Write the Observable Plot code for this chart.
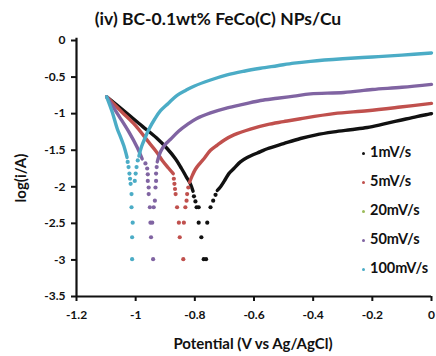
<!DOCTYPE html>
<html><head><meta charset="utf-8">
<script src="https://cdn.jsdelivr.net/npm/d3@7"></script>
<script src="https://cdn.jsdelivr.net/npm/@observablehq/plot@0.6"></script>
<style>
html,body{margin:0;padding:0;background:#fff;}
#wrap{position:relative;width:436px;height:356px;overflow:hidden;font-family:Lato,"Open Sans",sans-serif;}
#wrap svg text{font-weight:700;}
.t{position:absolute;white-space:nowrap;color:#111;font-weight:700;}
.leg{position:absolute;left:362px;font-size:14.5px;font-weight:700;color:#111;white-space:nowrap;line-height:16px;}
.leg span.d{display:inline-block;width:3px;height:3px;border-radius:50%;margin-right:5px;vertical-align:middle;}
</style></head>
<body><div id="wrap"></div>
<script>
// ---- data ----
const seriesNames = ["1mV/s","5mV/s","20mV/s","50mV/s","100mV/s"];
const seriesColors = ["#111111","#C0504D","#9BBB59","#8064A2","#4BACC6"];
const xTicks = [-1.2,-1,-0.8,-0.6,-0.4,-0.2,0];
const yTicks = [0,-0.5,-1,-1.5,-2,-2.5,-3,-3.5];

// 1mV/s (black)
const black_cath = [[-1.098,-0.77],[-1.046,-0.94],[-0.978,-1.17],[-0.930,-1.33],[-0.893,-1.48],[-0.865,-1.62],[-0.845,-1.75],[-0.828,-1.87],[-0.815,-1.96],[-0.806,-2.06]];
const black_dots = [[-0.803,-2.13],[-0.798,-2.20],[-0.794,-2.28],[-0.787,-2.28],[-0.787,-2.49],[-0.778,-2.69],[-0.770,-2.99],[-0.762,-2.99],[-0.758,-2.49],[-0.747,-2.28],[-0.738,-2.19],[-0.730,-2.11]];
const black_anod = [[-0.724,-2.05],[-0.713,-2.00],[-0.700,-1.92],[-0.685,-1.82],[-0.668,-1.75],[-0.646,-1.66],[-0.623,-1.60],[-0.578,-1.52],[-0.555,-1.48],[-0.500,-1.41],[-0.443,-1.34],[-0.390,-1.29],[-0.330,-1.25],[-0.274,-1.22],[-0.217,-1.19],[-0.160,-1.14],[-0.105,-1.09],[-0.050,-1.04],[0,-1.00]];

// 5mV/s (red)
const red_cath = [[-1.098,-0.77],[-1.046,-0.98],[-1.001,-1.16],[-0.956,-1.39],[-0.930,-1.52],[-0.910,-1.64],[-0.890,-1.74],[-0.873,-1.82]];
const red_dots = [[-0.871,-1.89],[-0.869,-1.96],[-0.867,-2.03],[-0.865,-2.10],[-0.860,-2.28],[-0.854,-2.49],[-0.851,-2.69],[-0.839,-2.99],[-0.837,-2.49],[-0.832,-2.28],[-0.828,-2.19],[-0.826,-2.10],[-0.822,-2.01]];
const red_anod = [[-0.818,-1.94],[-0.808,-1.84],[-0.798,-1.76],[-0.785,-1.69],[-0.770,-1.62],[-0.747,-1.50],[-0.724,-1.43],[-0.700,-1.36],[-0.668,-1.29],[-0.612,-1.21],[-0.555,-1.15],[-0.500,-1.11],[-0.443,-1.07],[-0.330,-1.00],[-0.217,-0.96],[-0.105,-0.91],[0,-0.86]];

// 50mV/s (purple)
const purple_cath = [[-1.098,-0.77],[-1.057,-1.03],[-1.023,-1.25],[-0.995,-1.46],[-0.978,-1.62]];
const purple_dots = [[-0.967,-1.68],[-0.961,-1.75],[-0.959,-1.83],[-0.959,-1.92],[-0.956,-2.01],[-0.956,-2.10],[-0.952,-2.28],[-0.950,-2.49],[-0.948,-2.69],[-0.941,-2.99],[-0.944,-2.49],[-0.939,-2.28],[-0.935,-2.19],[-0.933,-2.01],[-0.931,-1.92],[-0.931,-1.82],[-0.929,-1.73]];
const purple_anod = [[-0.927,-1.66],[-0.916,-1.52],[-0.900,-1.42],[-0.882,-1.35],[-0.855,-1.24],[-0.826,-1.15],[-0.795,-1.07],[-0.747,-0.99],[-0.690,-0.92],[-0.634,-0.87],[-0.578,-0.82],[-0.521,-0.79],[-0.465,-0.76],[-0.409,-0.73],[-0.296,-0.71],[-0.200,-0.67],[-0.100,-0.64],[0,-0.60]];

// 100mV/s (cyan)
const cyan_cath = [[-1.098,-0.77],[-1.079,-0.98],[-1.062,-1.21],[-1.050,-1.33],[-1.040,-1.44],[-1.029,-1.60]];
const cyan_dots = [[-1.027,-1.66],[-1.024,-1.73],[-1.021,-1.82],[-1.019,-1.89],[-1.017,-1.96],[-1.014,-2.10],[-1.014,-2.28],[-1.010,-2.49],[-1.012,-2.69],[-1.012,-2.99],[-1.003,-1.92],[-1.000,-1.82],[-0.997,-1.73],[-0.993,-1.64]];
const cyan_anod = [[-0.989,-1.58],[-0.980,-1.45],[-0.968,-1.33],[-0.956,-1.22],[-0.935,-1.07],[-0.916,-0.96],[-0.890,-0.86],[-0.860,-0.75],[-0.830,-0.68],[-0.803,-0.625],[-0.747,-0.54],[-0.691,-0.47],[-0.634,-0.42],[-0.578,-0.38],[-0.521,-0.345],[-0.465,-0.31],[-0.409,-0.285],[-0.300,-0.25],[-0.200,-0.225],[-0.100,-0.20],[0,-0.17]];

// ---- build ----
const groups = [
  {name:"1mV/s", lines:[black_cath, black_anod], dots:black_dots},
  {name:"5mV/s", lines:[red_cath, red_anod], dots:red_dots},
  {name:"50mV/s", lines:[purple_cath, purple_anod], dots:purple_dots},
  {name:"100mV/s", lines:[cyan_cath, cyan_anod], dots:cyan_dots}
];
const color = Object.fromEntries(seriesNames.map((n,i)=>[n, seriesColors[i]]));
const marks = [];
for (const g of groups) {
  for (const ln of g.lines) {
    marks.push(Plot.line(ln, {x:d=>d[0], y:d=>d[1], stroke:color[g.name], strokeWidth:3.4, curve:"catmull-rom"}));
  }
  marks.push(Plot.dot(g.dots, {x:d=>d[0], y:d=>d[1], fill:color[g.name], r:2.1}));
}

const chart = Plot.plot({
  width:436, height:356,
  marginLeft:76, marginRight:5, marginTop:40, marginBottom:60,
  style:{fontFamily:"Lato, 'Open Sans', sans-serif", fontSize:"12px", color:"#111", background:"#fff"},
  x:{domain:[-1.2,0]},
  y:{domain:[-3.5,0]},
  marks:[
    ...marks,
    Plot.axisX({ticks:xTicks, tickFormat:d=>String(d), tickSize:5, tickPadding:9, strokeWidth:2, label:null}),
    Plot.axisY({ticks:yTicks, tickFormat:d=>String(d), tickSize:5, tickPadding:6, strokeWidth:2, label:null}),
    Plot.ruleX([-1.2], {stroke:"#111", strokeWidth:2.2, y1:-3.5, y2:0.03}),
    Plot.ruleY([-3.5], {stroke:"#111", strokeWidth:2.2, x1:-1.2, x2:0})
  ]
});
const wrap = document.getElementById("wrap");
chart.style.position = "absolute"; chart.style.left = "0"; chart.style.top = "0";
wrap.appendChild(chart);

function addText(txt, css) {
  const d = document.createElement("div");
  d.className = "t"; d.textContent = txt;
  Object.assign(d.style, css);
  wrap.appendChild(d);
  return d;
}
addText("(iv) BC-0.1wt% FeCo(C) NPs/Cu", {left:"218px", top:"18px", transform:"translate(-50%,-50%)", fontSize:"17.5px"});
addText("Potential (V vs Ag/AgCl)", {left:"253px", top:"343px", transform:"translate(-50%,-50%)", fontSize:"15px"});
addText("log(i/A)", {left:"20px", top:"178px", transform:"translate(-50%,-50%) rotate(-90deg)", fontSize:"15px"});

const legendY = [152,181,210,239,268];
seriesNames.forEach((n,i)=>{
  const d = document.createElement("div");
  d.className = "leg";
  d.style.top = (legendY[i]-8) + "px";
  d.innerHTML = `<span class="d" style="background:${seriesColors[i]}"></span>${n}`;
  wrap.appendChild(d);
});
</script></body></html>
